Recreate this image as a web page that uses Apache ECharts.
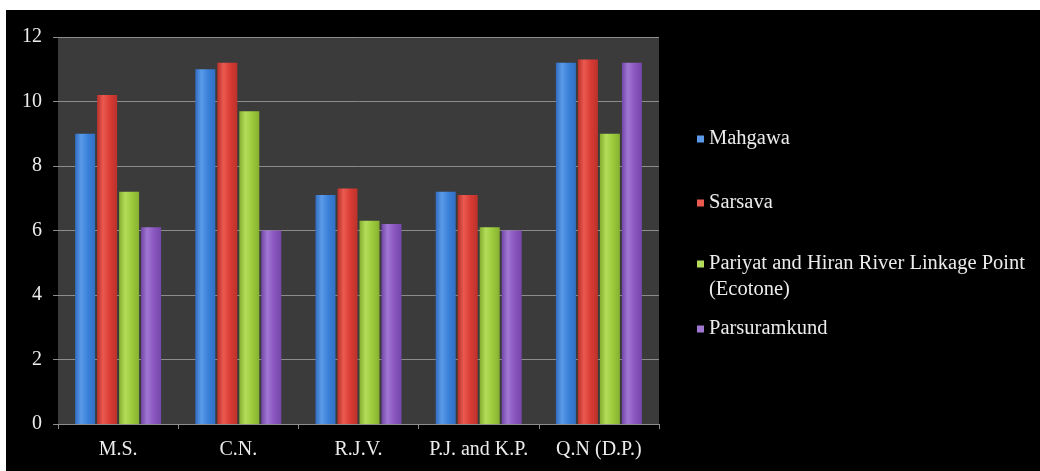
<!DOCTYPE html>
<html>
<head>
<meta charset="utf-8">
<script src="https://cdn.jsdelivr.net/npm/echarts@6/dist/echarts.min.js"></script>
<style>
  html, body { margin: 0; padding: 0; background: #ffffff; }
  #chart { position: absolute; left: 6px; top: 10px; width: 1034px; height: 461px; background: #000000; }
</style>
</head>
<body>
<div id="chart"></div>
<script>
// Sites along the x axis
const categories = ['M.S.', 'C.N.', 'R.J.V.', 'P.J. and K.P.', 'Q.N (D.P.)'];
// Tick labels on the value axis
const yTicks = [0, 2, 4, 6, 8, 10, 12];

// One array per sampling station
const mahgawa = [9.0, 11.0, 7.1, 7.2, 11.2];
const sarsava = [10.2, 11.2, 7.3, 7.1, 11.3];
const ecotone = [7.2, 9.7, 6.3, 6.1, 9.0];
const parsuramkund = [6.1, 6.0, 6.2, 6.0, 11.2];

const seriesNames = ['Mahgawa', 'Sarsava', 'Pariyat and Hiran River Linkage Point (Ecotone)', 'Parsuramkund'];
const seriesData = [mahgawa, sarsava, ecotone, parsuramkund];

// Soft cylinder shading: slightly darker edges, brighter left-centre
const palette = [
  ['#2f6cc0', '#5a9ae8', '#3a80d8', '#3170c4'],
  ['#b8302a', '#ea5a50', '#d83b33', '#bb322b'],
  ['#84ad2e', '#b4dc5a', '#9bca3c', '#86b030'],
  ['#7246a8', '#a077d3', '#8a55bf', '#7548aa']
];

function shade(c) {
  return new echarts.graphic.LinearGradient(0, 0, 1, 0, [
    { offset: 0, color: c[0] },
    { offset: 0.3, color: c[1] },
    { offset: 0.65, color: c[2] },
    { offset: 1, color: c[3] }
  ]);
}

const font = '"Liberation Serif", "Times New Roman", serif';
const textColor = '#ececec';
const lineColor = '#8c8c8c';

const series = seriesNames.map((name, i) => ({
  name: name,
  type: 'bar',
  data: seriesData[i],
  barWidth: 20,
  barGap: '10%',
  itemStyle: { color: shade(palette[i]) }
}));

// One legend block per entry; the wrapped entry gets a blank first line
// so that its icon sits beside the first line of text
const legendTops = [118, 182, 215, 308];
const legends = seriesNames.map((name, i) => {
  const wrapped = i === 2;
  return {
    data: [{ name: name, itemStyle: { color: palette[i][1] } }],
    orient: 'vertical',
    left: 691,
    top: legendTops[i],
    padding: 0,
    itemWidth: 7,
    itemHeight: 7,
    icon: 'rect',
    selectedMode: false,
    formatter: wrapped ? () => '\nPariyat and Hiran River Linkage Point\n(Ecotone)' : undefined,
    textStyle: {
      color: textColor,
      fontFamily: font,
      fontSize: 20.5,
      lineHeight: wrapped ? 26 : 22
    }
  };
});

const chart = echarts.init(document.getElementById('chart'), null, { renderer: 'canvas' });
chart.setOption({
  backgroundColor: '#000000',
  animation: false,
  legend: legends,
  grid: {
    left: 52, top: 27, width: 601, height: 387,
    show: true, backgroundColor: '#3b3b3b', borderWidth: 0
  },
  xAxis: {
    type: 'category',
    data: categories,
    axisLine: { show: true, lineStyle: { color: lineColor, width: 1 } },
    axisTick: { show: true, length: 5, lineStyle: { color: lineColor } },
    axisLabel: { interval: 0, color: textColor, fontFamily: font, fontSize: 20, margin: 16 }
  },
  yAxis: {
    type: 'value',
    min: yTicks[0],
    max: yTicks[yTicks.length - 1],
    interval: 2,
    axisLine: { show: false },
    axisTick: { show: true, length: 5, lineStyle: { color: lineColor } },
    splitLine: { show: true, lineStyle: { color: lineColor, width: 1 } },
    axisLabel: { color: textColor, fontFamily: font, fontSize: 20, margin: 16 }
  },
  series: series
});
</script>
</body>
</html>
